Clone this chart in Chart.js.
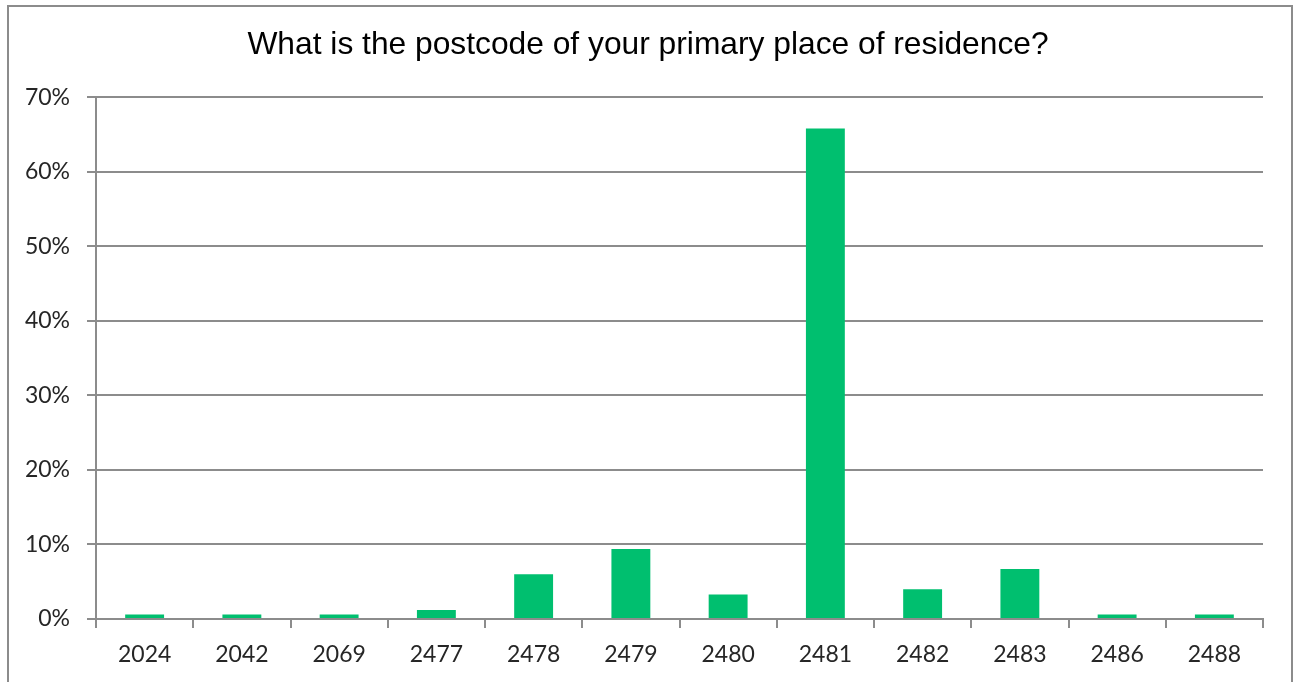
<!DOCTYPE html>
<html>
<head>
<meta charset="utf-8">
<title>Primary place of residence by postcode</title>
<script src="https://cdn.jsdelivr.net/npm/chart.js@4.4.1/dist/chart.umd.min.js"></script>
<style>
  html, body { margin: 0; padding: 0; background: #ffffff; overflow: hidden; }
  #wrap { position: relative; width: 1293px; height: 682px; overflow: hidden; }
  #frame {
    position: absolute; left: 7px; top: 5px; width: 1286px; height: 720px;
    box-sizing: border-box; border: 2px solid #8c8c8c; pointer-events: none;
  }
  canvas { position: absolute; left: 0; top: 0; }
</style>
</head>
<body>
<div id="wrap">
  <canvas id="chart" width="1293" height="682"></canvas>
  <div id="frame"></div>
</div>
<script>
// Survey question and response shares (percent of respondents)
const chartTitle = 'What is the postcode of your primary place of residence?';
const postcodes = ['2024', '2042', '2069', '2477', '2478', '2479', '2480', '2481', '2482', '2483', '2486', '2488'];
const sharePercent = [0.6, 0.6, 0.6, 1.2, 6.0, 9.4, 3.3, 65.8, 4.0, 6.7, 0.6, 0.6];
const yTickValues = [0, 10, 20, 30, 40, 50, 60, 70];

const axisGray = '#8c8c8c';
const labelColor = '#262626';
const labelFont = { family: 'Lato, "Open Sans", sans-serif', size: 23 };

new Chart(document.getElementById('chart'), {
  type: 'bar',
  data: {
    labels: postcodes,
    datasets: [{
      data: sharePercent,
      backgroundColor: '#00BF6F',
      borderWidth: 0,
      categoryPercentage: 1.0,
      barPercentage: 0.4
    }]
  },
  options: {
    responsive: false,
    animation: false,
    layout: { padding: { left: 17, right: 14, top: 0, bottom: 0 } },
    plugins: {
      legend: { display: false },
      tooltip: { enabled: false },
      title: {
        display: true,
        text: chartTitle,
        color: '#000000',
        font: { family: '"Liberation Sans", Arial, sans-serif', size: 31.75, weight: 'normal', lineHeight: 1.2 },
        padding: { top: 26, bottom: 33 }
      }
    },
    scales: {
      x: {
        grid: {
          offset: true,
          drawOnChartArea: false,
          drawTicks: true,
          tickLength: 9,
          color: axisGray,
          lineWidth: 2
        },
        border: { display: true, color: axisGray, width: 2 },
        ticks: { color: labelColor, font: labelFont, padding: 13, maxRotation: 0, autoSkip: false },
        afterFit(scale) { scale.height = 63; }
      },
      y: {
        min: 0,
        max: 70,
        afterBuildTicks(scale) { scale.ticks = yTickValues.map(v => ({ value: v })); },
        grid: {
          color: axisGray,
          lineWidth: 2,
          drawTicks: true,
          tickLength: 9
        },
        border: { display: true, color: axisGray, width: 2 },
        ticks: {
          color: labelColor,
          font: labelFont,
          padding: 17,
          callback: v => v + '%'
        },
        afterFit(scale) { scale.width = 79; }
      },
      // empty right-hand gutter so the title centres over the whole frame
      gutter: {
        type: 'linear',
        axis: 'y',
        position: 'right',
        min: 0,
        max: 70,
        grid: { display: false, drawOnChartArea: false },
        border: { display: false },
        ticks: { display: false },
        afterFit(scale) { scale.width = 16; }
      }
    }
  }
});
</script>
</body>
</html>
